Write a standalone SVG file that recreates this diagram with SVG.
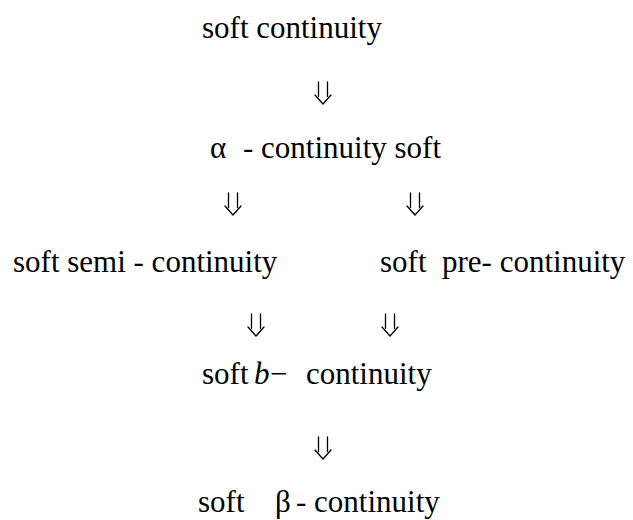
<svg xmlns="http://www.w3.org/2000/svg" width="633" height="520" viewBox="0 0 633 520">
<style>
.t{font-family:"Liberation Serif","DejaVu Serif","Times New Roman",serif;font-size:31px;fill:#000}
.i{font-style:italic}
.a{fill:none;stroke:#000;stroke-width:1.3;stroke-linecap:round;stroke-linejoin:round}
</style>
<defs>
<path id="dar" class="a" d="M-4.5,0 V14.5 M4.5,0 V14.5 M-8,13 L0,22 L8,13"/>
</defs>
<rect width="633" height="520" fill="#fff"/>
<g id="n1"><text class="t" x="202" y="38">soft continuity</text></g>
<g id="n2"><text class="t" x="210" y="158">α</text><text class="t" x="243" y="158">- continuity soft</text></g>
<g id="n3"><text class="t" x="13" y="272">soft semi - continuity</text></g>
<g id="n4"><text class="t" x="380" y="272" xml:space="preserve">soft  pre- continuity</text></g>
<g id="n5"><text class="t" x="202" y="384">soft</text><text class="t i" x="254" y="384">b</text><text class="t" x="270" y="384">−</text><text class="t" x="306" y="384">continuity</text></g>
<g id="n6"><text class="t" x="198" y="512">soft</text><text class="t" x="275" y="512">β</text><text class="t" x="296" y="512">- continuity</text></g>
<g id="connectors">
<use href="#dar" x="323" y="82"/>
<use href="#dar" x="233" y="193"/>
<use href="#dar" x="415" y="193"/>
<use href="#dar" x="256" y="314"/>
<use href="#dar" x="390" y="314"/>
<use href="#dar" x="323" y="437"/>
</g>
</svg>
